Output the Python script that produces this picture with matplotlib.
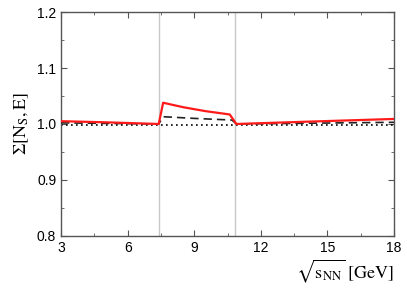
import matplotlib
matplotlib.use('Agg')
import matplotlib.pyplot as plt
from matplotlib.ticker import MultipleLocator

# energies [GeV] and scaled variance values
red_x = [3, 5, 7.4, 7.6, 8.5, 9.5, 10.6, 10.9, 14, 18]
red_y = [1.005, 1.003, 1.0, 1.038, 1.030, 1.023, 1.017, 1.0, 1.004, 1.009]

dash_x = [3, 7.4, 7.6, 9, 10.7, 10.9, 18]
dash_y = [1.002, 1.0, 1.013, 1.010, 1.007, 1.0, 1.003]

dot_x = [3, 18]
dot_y = [0.999, 0.999]

vlines_x = [7.4, 10.85]

plt.rcParams['mathtext.fontset'] = 'stix'
plt.rcParams['font.family'] = ['Liberation Sans', 'DejaVu Sans']

fig = plt.figure(figsize=(4.07, 2.88), dpi=100)
ax = fig.add_axes([0.150, 0.181, 0.818, 0.777])

for xv in vlines_x:
    ax.axvline(xv, color='#c8c8c8', lw=1.0, zorder=1)

ax.plot(dot_x, dot_y, color='black', lw=1.2, ls=(0, (1, 2)), zorder=2)
ax.plot(dash_x, dash_y, color='#222222', lw=1.2, ls=(0, (5, 3)), zorder=3)
ax.plot(red_x, red_y, color='#ff1a1a', lw=1.6, zorder=4)

ax.set_xlim(3, 18)
ax.set_ylim(0.8, 1.2)
ax.xaxis.set_major_locator(MultipleLocator(3))
ax.xaxis.set_minor_locator(MultipleLocator(1.5))
ax.yaxis.set_major_locator(MultipleLocator(0.1))
ax.yaxis.set_minor_locator(MultipleLocator(0.05))
ax.yaxis.set_major_formatter(plt.FuncFormatter(lambda v, p: '%.1f' % v))

ax.tick_params(which='both', direction='in', top=True, right=True,
               labelsize=10, color='#555555')
ax.tick_params(which='major', length=4)
ax.tick_params(which='minor', length=2)
for s in ax.spines.values():
    s.set_color('#555555')
    s.set_linewidth(1.0)

ax.set_ylabel(r'$\Sigma[\mathrm{N}_{\mathrm{S}},\mathrm{E}]$', fontsize=13, labelpad=4)
ax.set_xlabel(r'$\sqrt{\mathrm{s}_{\mathrm{NN}}}\ \mathrm{[GeV]}$', fontsize=13,
              loc='right', labelpad=2)

fig.savefig('out.png', dpi=100)
